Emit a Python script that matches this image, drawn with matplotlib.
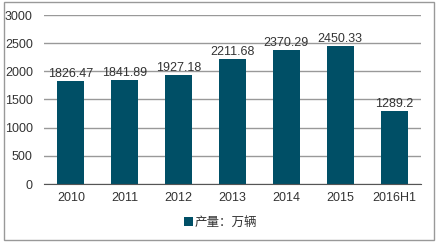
import matplotlib.pyplot as plt
from matplotlib.patches import Rectangle

plt.rcParams['font.family'] = ['Noto Sans CJK SC', 'DejaVu Sans']

# data
years = ['2010', '2011', '2012', '2013', '2014', '2015', '2016H1']
output = [1826.47, 1841.89, 1927.18, 2211.68, 2370.29, 2450.33, 1289.2]
value_labels = ['1826.47', '1841.89', '1927.18', '2211.68', '2370.29', '2450.33', '1289.2']

bar_color = '#004F66'
text_color = '#333333'

fig = plt.figure(figsize=(4.37, 2.45), dpi=100)
ax = fig.add_axes([44 / 437, 1 - 184 / 245, 377 / 437, 169 / 245])

bars = ax.bar(years, output, width=0.5, color=bar_color, label='产量：万辆', zorder=3)
ax.bar_label(bars, labels=value_labels, padding=1, fontsize=9, color=text_color,
             family=['Liberation Sans', 'DejaVu Sans'])

ax.set_ylim(0, 3000)
ax.set_xlim(-0.5, len(years) - 0.5)
ax.set_yticks(range(0, 3001, 500))
ax.yaxis.grid(True, color='#999999', linewidth=1, zorder=0)
for s in ['top', 'right', 'left']:
    ax.spines[s].set_visible(False)
ax.spines['bottom'].set_color('#555555')
ax.spines['bottom'].set_zorder(4)
ax.tick_params(axis='both', length=0, labelsize=9, colors=text_color)
ax.tick_params(axis='y', pad=8)
ax.tick_params(axis='x', pad=6)
for lbl in ax.get_xticklabels() + ax.get_yticklabels():
    lbl.set_family(['Liberation Sans', 'DejaVu Sans'])

fig.legend(handles=[bars], labels=['产量：万辆'], loc='center', bbox_to_anchor=(0.505, 1 - 222 / 245),
           frameon=False, fontsize=9, handlelength=0.7, handleheight=0.7, handletextpad=0.2,
           labelcolor=text_color)

# outer border
fig.patches.append(Rectangle((4 / 437, 5 / 245), 430 / 437, 238 / 245, transform=fig.transFigure,
                             fill=False, edgecolor='#999999', linewidth=1))

fig.savefig('out.png', dpi=100)
